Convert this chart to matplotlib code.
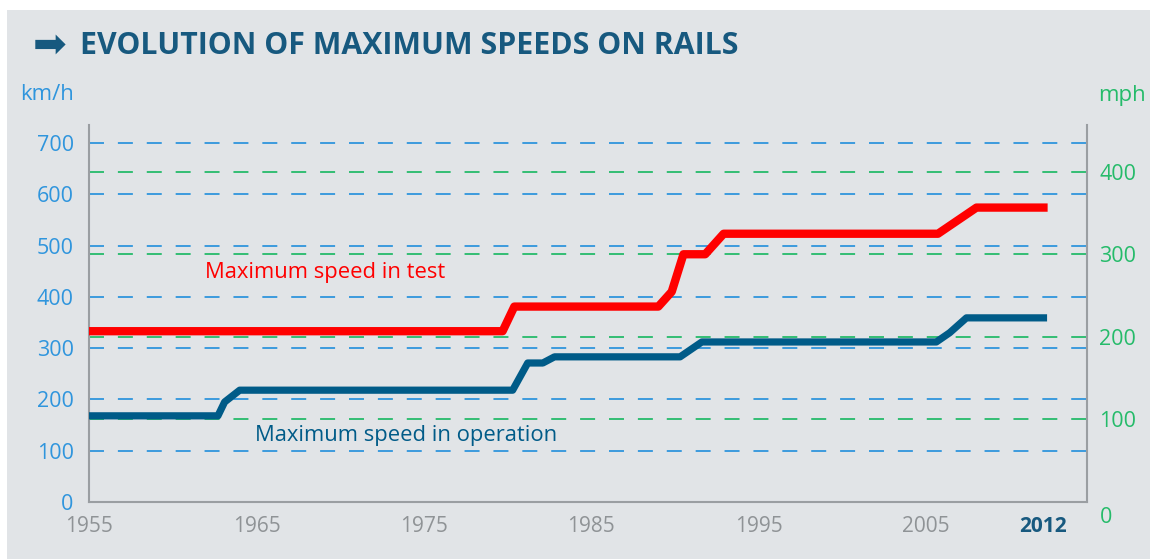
import matplotlib
matplotlib.use("Agg")
import matplotlib.pyplot as plt
import matplotlib.transforms as mtransforms
from matplotlib.patches import Rectangle

# data
test_years = [1955, 1979.7, 1980.4, 1989.0, 1989.8, 1990.5, 1991.8, 1992.9, 2005.7, 2008.0, 2012]
test_speeds = [333, 333, 381, 381, 410, 483, 483, 523, 523, 574, 574]

ops_years = [1955, 1962.7, 1963.1, 1964.0, 1980.3, 1981.2, 1982.1, 1982.8,
             1990.3, 1991.6, 2005.6, 2006.4, 2007.4, 2012]
ops_speeds = [168, 168, 195, 218, 218, 271, 271, 283, 283, 312, 312, 330, 359, 359]

kmh_ticks = [0, 100, 200, 300, 400, 500, 600, 700]
mph_ticks = [0, 100, 200, 300, 400]
year_ticks = [1955, 1965, 1975, 1985, 1995, 2005, 2012]
KMH_PER_MPH = 1.609344

BG = "#e1e4e7"
C_KMH = "#2f95dd"
C_MPH = "#25bb6a"
C_TEST = "#ff0000"
C_OPS = "#005b88"
C_TITLE = "#17597f"
C_GREY = "#8f9396"
FONT = ["Open Sans", "DejaVu Sans"]

plt.rcParams['font.family'] = FONT

fig = plt.figure(figsize=(11.5, 5.59), dpi=100)
fig.patch.set_facecolor("white")
fig.add_artist(Rectangle((7 / 1150, 0), 1, 1 - 10 / 559, transform=fig.transFigure,
                         facecolor=BG, edgecolor="none", zorder=-10))

ax = fig.add_axes([89 / 1150, 57 / 559, 998 / 1150, 377 / 559])
ax.set_facecolor("none")
ax.set_xlim(1955, 2014.6)
ax.set_ylim(0, 735)

# dashed guide lines for both units
for v in kmh_ticks[1:]:
    ax.axhline(v, color=C_KMH, lw=1.3, linestyle=(0, (8.3, 7.7)), zorder=1)
for v in mph_ticks[1:]:
    ax.axhline(v * KMH_PER_MPH, color=C_MPH, lw=1.3, linestyle=(0, (8.3, 7.7)), zorder=1)

ax.plot(test_years, test_speeds, color=C_TEST, lw=6, zorder=3)
ax.plot(ops_years, ops_speeds, color=C_OPS, lw=5.2, zorder=3)

ax.text(1961.9, 448, "Maximum speed in test", color=C_TEST, fontsize=15.8, va="center")
ax.text(1964.9, 129, "Maximum speed in operation", color=C_OPS, fontsize=15.8, va="center")

for s in ["top"]:
    ax.spines[s].set_visible(False)
for s in ["left", "bottom", "right"]:
    ax.spines[s].set_color("#9a9ea2")
    ax.spines[s].set_linewidth(1.5)

ax.set_yticks(kmh_ticks)
ax.set_yticklabels([str(v) for v in kmh_ticks])
ax.tick_params(axis="y", length=0, pad=11, labelsize=15.5, labelcolor=C_KMH)

ax.set_xticks(year_ticks)
ax.set_xticklabels([str(y) for y in year_ticks])
ax.tick_params(axis="x", length=0, pad=10, labelsize=15, labelcolor=C_GREY)
last = ax.get_xticklabels()[-1]
last.set_color(C_TITLE)
last.set_fontweight("bold")

ax2 = ax.twinx()
ax2.set_ylim(0, 735 / KMH_PER_MPH)
ax2.set_yticks(mph_ticks)
ax2.set_yticklabels([str(v) for v in mph_ticks])
ax2.tick_params(axis="y", length=0, pad=9, labelsize=15.5, labelcolor=C_MPH)
for s in ["top", "left", "bottom", "right"]:
    ax2.spines[s].set_visible(False)
zero = ax2.get_yticklabels()[0]
zero.set_transform(zero.get_transform() + mtransforms.ScaledTranslation(0, -13 / 100, fig.dpi_scale_trans))

fig.text(20 / 1150, 1 - 95 / 559, "km/h", color=C_KMH, fontsize=16, va="center", ha="left")
fig.text(1146 / 1150, 1 - 95 / 559, "mph", color=C_MPH, fontsize=16, va="center", ha="right")

fig.text(33 / 1150, 1 - 46 / 559, "\u27a1", color=C_TITLE, fontsize=29, va="center", ha="left",
         family=["DejaVu Sans"])
fig.text(80 / 1150, 1 - 46 / 559, "EVOLUTION OF MAXIMUM SPEEDS ON RAILS", color=C_TITLE,
         fontsize=21.8, fontweight="bold", va="center", ha="left")

fig.savefig("out.png", dpi=100, facecolor=fig.get_facecolor())
